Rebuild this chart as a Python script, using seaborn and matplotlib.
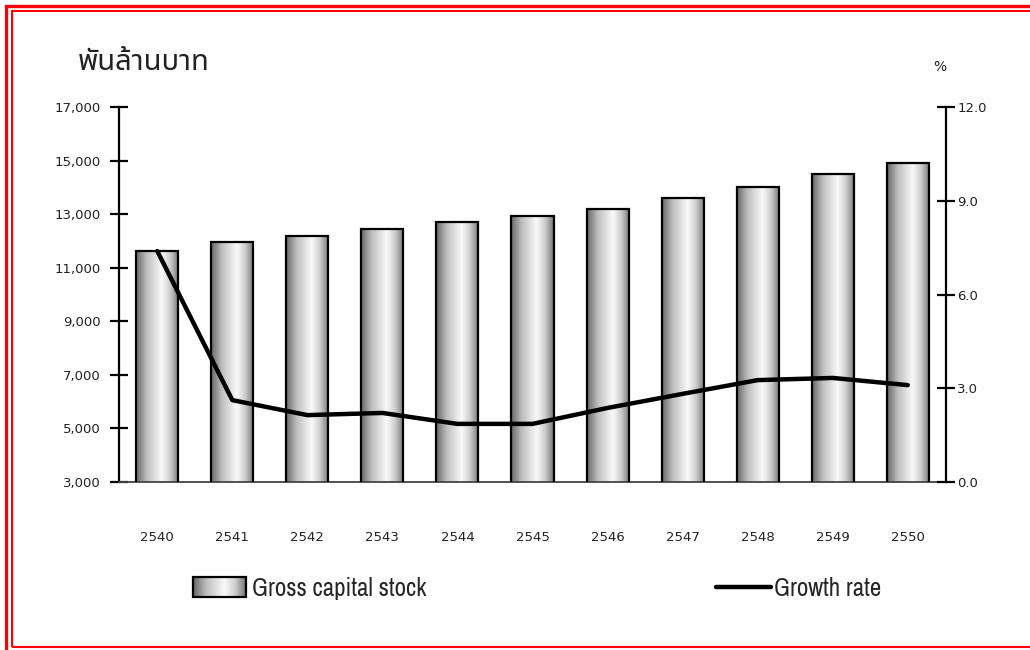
import numpy as np
import pandas as pd
import matplotlib
matplotlib.use("Agg")
import matplotlib.pyplot as plt
import seaborn as sns
from matplotlib import font_manager as fm
from matplotlib.colors import LinearSegmentedColormap
from matplotlib.patches import Rectangle
from matplotlib.lines import Line2D
from matplotlib.legend_handler import HandlerBase
from matplotlib.image import BboxImage
from matplotlib.transforms import Bbox, TransformedBbox

years = ["2540", "2541", "2542", "2543", "2544", "2545", "2546", "2547", "2548", "2549", "2550"]
capital_stock = [11620, 11950, 12180, 12440, 12700, 12930, 13190, 13600, 14010, 14500, 14900]
growth_rate = [7.39, 2.62, 2.14, 2.21, 1.86, 1.86, 2.37, 2.82, 3.26, 3.33, 3.10]
left_ticks = [3000, 5000, 7000, 9000, 11000, 13000, 15000, 17000]
right_ticks = [0.0, 3.0, 6.0, 9.0, 12.0]
unit_left = "พันล้านบาท"
unit_right = "%"
legend_labels = ["Gross capital stock", "Growth rate"]

sns.set_theme(style="white")

all_fams = {f.name for f in fm.fontManager.ttflist}
thai_family = next((c for c in ["Noto Sans Thai", "Sarabun", "Anuphan", "IBM Plex Sans Thai"]
                    if c in all_fams), "DejaVu Sans")
narrow = next((c for c in ["Archivo Narrow", "Liberation Sans Narrow", "Asap Condensed"]
               if c in all_fams), "Liberation Sans")

plt.rcParams["font.family"] = ["DejaVu Sans"]

fig = plt.figure(figsize=(10.3, 6.5), dpi=100)
ax = fig.add_axes([119 / 1030, 1 - 482 / 650, (946 - 119) / 1030, (482 - 107) / 650])

df = pd.DataFrame({"year": years, "capital": capital_stock, "growth": growth_rate})
sns.barplot(data=df, x="year", y="capital", ax=ax, width=0.56, color="#cccccc",
            edgecolor="black", linewidth=1.6, saturation=1)

cmap = LinearSegmentedColormap.from_list(
    "cyl", [(0.0, "#666666"), (0.25, "#bebebe"), (0.6, "#fafafa"), (0.8, "#cccccc"), (1.0, "#737373")])
grad = np.linspace(0, 1, 256).reshape(1, -1)

ax.set_xlim(-0.51, 10.51)
ax.set_ylim(3000, 17000)

for p in list(ax.patches):
    x, y = p.get_x(), p.get_y()
    w, h = p.get_width(), p.get_height()
    im = ax.imshow(grad, extent=[x, x + w, y, y + h], aspect="auto", cmap=cmap,
                   zorder=2, interpolation="bicubic")
    im.set_clip_path(p)
    im.set_clip_box(ax.bbox)
    p.set_facecolor("none")
    p.set_zorder(3)

ax.set_xlim(-0.51, 10.51)
ax.set_ylim(3000, 17000)
ax.set_yticks(left_ticks)
ax.set_yticklabels([f"{v:,}" for v in left_ticks])
ax.set_xlabel("")
ax.set_ylabel("")

ax2 = ax.twinx()
sns.lineplot(x=np.arange(len(years)), y=growth_rate, ax=ax2, color="black", linewidth=3.2,
             zorder=5)
ax2.set_ylim(0, 12)
ax2.set_yticks(right_ticks)
ax2.set_yticklabels([f"{v:.1f}" for v in right_ticks])
ax2.set_xlim(-0.51, 10.51)
ax2.set_ylabel("")

for a in (ax, ax2):
    for s in a.spines.values():
        s.set_visible(False)
ax.spines["left"].set_visible(True)
ax.spines["left"].set_color("black")
ax.spines["left"].set_linewidth(1.6)
ax.spines["bottom"].set_visible(True)
ax.spines["bottom"].set_color("#444444")
ax.spines["bottom"].set_linewidth(1.3)
ax2.spines["right"].set_visible(True)
ax2.spines["right"].set_color("black")
ax2.spines["right"].set_linewidth(1.6)

ax.tick_params(axis="y", direction="inout", length=13, width=1.6, color="black",
               labelsize=9.5, labelcolor="#222222", pad=6.5, left=True)
ax2.tick_params(axis="y", direction="inout", length=13, width=1.6, color="black",
                labelsize=9.5, labelcolor="#222222", pad=1.5, right=True)
ax.tick_params(axis="x", length=0, pad=35, labelsize=9.5, labelcolor="#222222")
ax.grid(False)
ax2.grid(False)

fig.text(78 / 1030, 1 - 62 / 650, unit_left, family=[thai_family, "DejaVu Sans"],
         fontsize=21, color="#222222", va="center", ha="left")
fig.text(940 / 1030, 1 - 67 / 650, unit_right, fontsize=10, color="#222222",
         va="center", ha="center")


class GradientHandler(HandlerBase):
    def create_artists(self, legend, orig_handle, xdescent, ydescent, width, height,
                       fontsize, trans):
        bb = TransformedBbox(Bbox.from_bounds(-xdescent, -ydescent, width, height), trans)
        img = BboxImage(bb, cmap=cmap, interpolation="bicubic")
        img.set_data(grad)
        rect = Rectangle((-xdescent, -ydescent), width, height, facecolor="none",
                         edgecolor="black", linewidth=1.6, transform=trans)
        return [img, rect]


bar_handle = Rectangle((0, 0), 1, 1)
line_handle = Line2D([], [], color="black", linewidth=3.2)
leg1 = fig.legend([bar_handle], [legend_labels[0]], handler_map={Rectangle: GradientHandler()},
                  loc="center left", bbox_to_anchor=(193 / 1030, 1 - 588 / 650), frameon=False,
                  prop={"family": narrow, "size": 18}, handlelength=2.1, handleheight=0.85,
                  handletextpad=0.25, borderaxespad=0, borderpad=0)
leg2 = fig.legend([line_handle], [legend_labels[1]], loc="center left",
                  bbox_to_anchor=(716 / 1030, 1 - 588 / 650), frameon=False,
                  prop={"family": narrow, "size": 18}, handlelength=2.2,
                  handletextpad=0.1, borderaxespad=0, borderpad=0)

fig.add_artist(Rectangle((6 / 1030, -0.02), 1.05, 1 - 5.5 / 650 + 0.02, transform=fig.transFigure,
                         fill=False, edgecolor="#ff0000", linewidth=2.4))
fig.add_artist(Rectangle((12 / 1030, 1 - 646.5 / 650), 1.05, (646.5 - 11) / 650,
                         transform=fig.transFigure, fill=False, edgecolor="#ff0000",
                         linewidth=1.5))

fig.savefig("out.png", dpi=100)
